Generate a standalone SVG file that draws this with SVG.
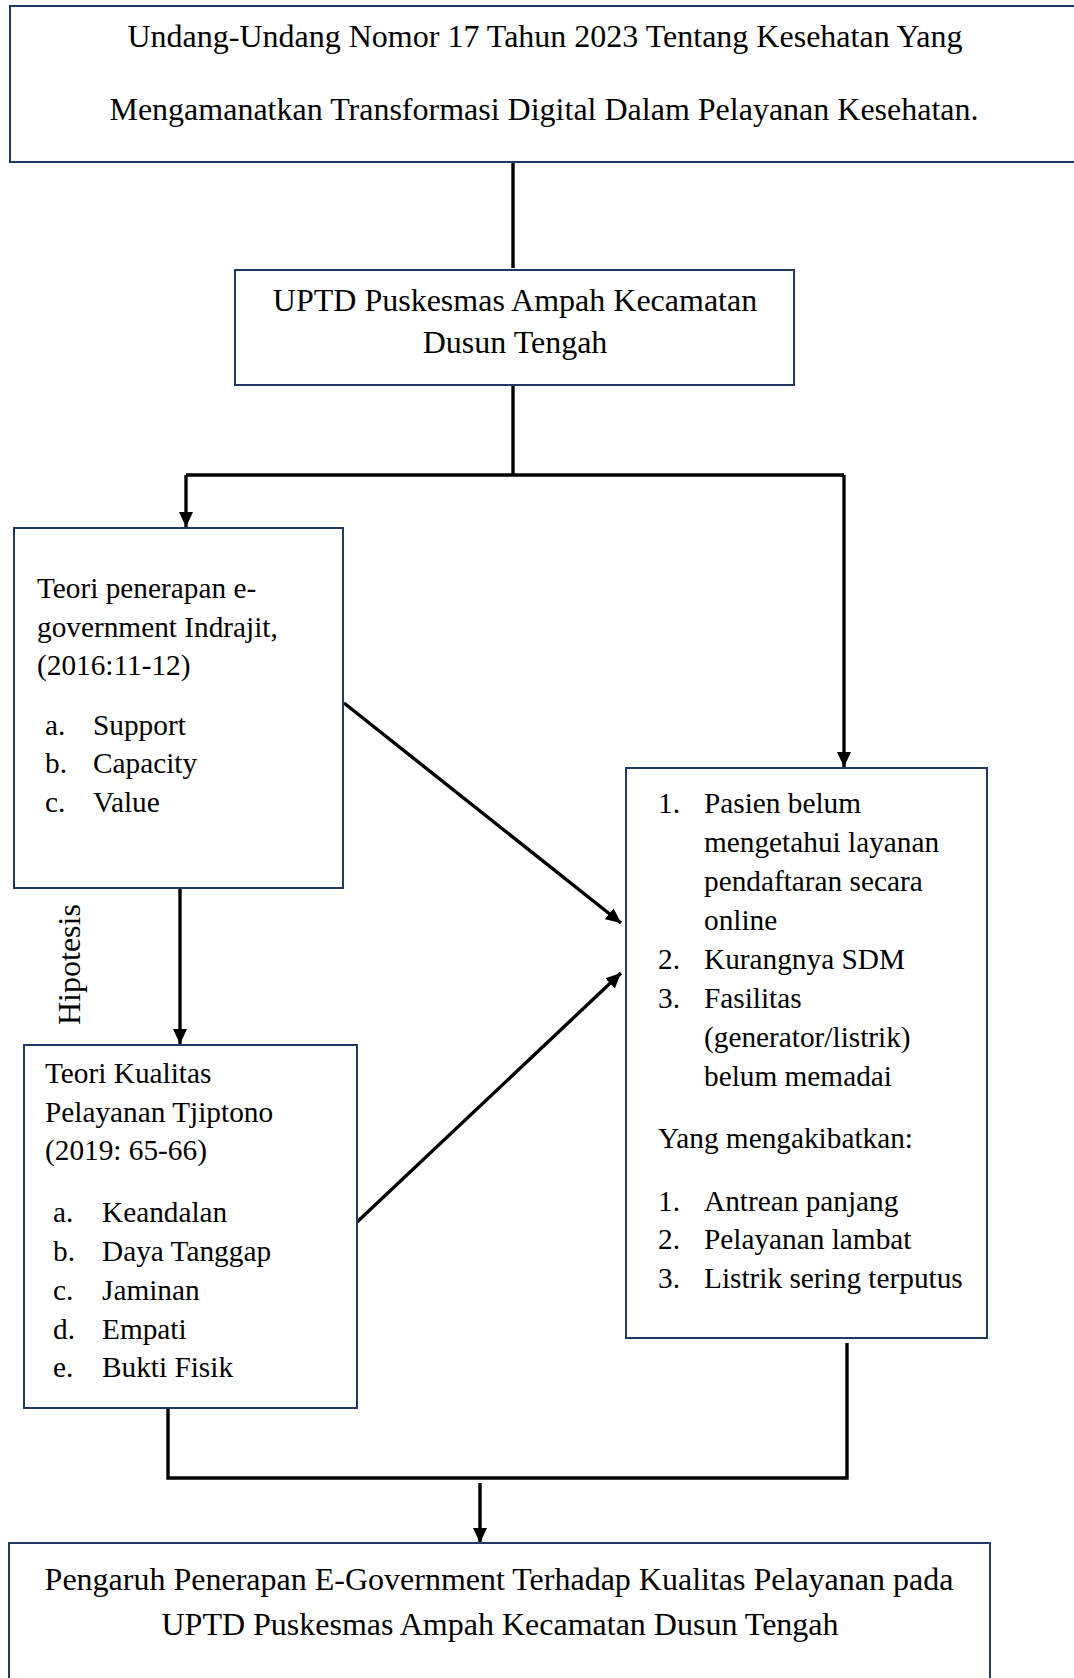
<svg xmlns="http://www.w3.org/2000/svg" width="1074" height="1678" viewBox="0 0 1074 1678">
<style>
.box{fill:#fff;stroke:#1f3864;stroke-width:2}
.t{font-family:"Liberation Serif","Times New Roman",serif;fill:#000}
.big{font-size:32px}
.sm{font-size:29.3px}
.mid{text-anchor:middle}
.c{fill:none;stroke:#000;stroke-width:3.4}
</style>
<defs>
<marker id="ah" markerUnits="userSpaceOnUse" markerWidth="16" markerHeight="14" refX="15" refY="7" orient="auto">
<path d="M0,0 L15,7 L0,14 z" fill="#000"/>
</marker>
</defs>
<rect width="1074" height="1678" fill="#fff"/>

<g id="connectors">
<line class="c" x1="513" y1="161" x2="513" y2="268"/>
<path class="c" d="M513,385 V475"/>
<path class="c" d="M186,475 H844"/>
<path class="c" d="M186,475 V527" marker-end="url(#ah)"/>
<path class="c" d="M844,475 V767" marker-end="url(#ah)"/>
<path class="c" d="M180,888 V1044" marker-end="url(#ah)"/>
<path class="c" d="M344,703 L621,923" marker-end="url(#ah)"/>
<path class="c" d="M356,1223 L621,973" marker-end="url(#ah)"/>
<path class="c" d="M168,1408 V1478 H847 V1343"/>
<path class="c" d="M480,1483 V1543" marker-end="url(#ah)"/>
</g>

<g id="node-uu">
<rect class="box" x="10" y="6" width="1090" height="156"/>
<text class="t big mid" x="545" y="47">Undang-Undang Nomor 17 Tahun 2023 Tentang Kesehatan Yang</text>
<text class="t big mid" x="544" y="120">Mengamanatkan Transformasi Digital Dalam Pelayanan Kesehatan.</text>
</g>

<g id="node-uptd">
<rect class="box" x="235" y="270" width="559" height="115"/>
<text class="t big mid" x="515" y="311">UPTD Puskesmas Ampah Kecamatan</text>
<text class="t big mid" x="515" y="353">Dusun Tengah</text>
</g>

<g id="node-egov">
<rect class="box" x="14" y="528" width="329" height="360"/>
<text class="t sm" x="37" y="598">Teori penerapan e-</text>
<text class="t sm" x="37" y="637">government Indrajit,</text>
<text class="t sm" x="37" y="675">(2016:11-12)</text>
<text class="t sm" x="45" y="735">a.</text><text class="t sm" x="93" y="735">Support</text>
<text class="t sm" x="45" y="773">b.</text><text class="t sm" x="93" y="773">Capacity</text>
<text class="t sm" x="45" y="812">c.</text><text class="t sm" x="93" y="812">Value</text>
</g>

<g id="label-hipotesis">
<text class="t big" transform="translate(80,1025) rotate(-90)">Hipotesis</text>
</g>

<g id="node-kualitas">
<rect class="box" x="24" y="1045" width="333" height="363"/>
<text class="t sm" x="45" y="1083">Teori Kualitas</text>
<text class="t sm" x="45" y="1122">Pelayanan Tjiptono</text>
<text class="t sm" x="45" y="1160">(2019: 65-66)</text>
<text class="t sm" x="53" y="1222">a.</text><text class="t sm" x="102" y="1222">Keandalan</text>
<text class="t sm" x="53" y="1261">b.</text><text class="t sm" x="102" y="1261">Daya Tanggap</text>
<text class="t sm" x="53" y="1300">c.</text><text class="t sm" x="102" y="1300">Jaminan</text>
<text class="t sm" x="53" y="1339">d.</text><text class="t sm" x="102" y="1339">Empati</text>
<text class="t sm" x="53" y="1377">e.</text><text class="t sm" x="102" y="1377">Bukti Fisik</text>
</g>

<g id="node-masalah">
<rect class="box" x="626" y="768" width="361" height="570"/>
<text class="t sm" x="658" y="813">1.</text><text class="t sm" x="704" y="813">Pasien belum</text>
<text class="t sm" x="704" y="852">mengetahui layanan</text>
<text class="t sm" x="704" y="891">pendaftaran secara</text>
<text class="t sm" x="704" y="930">online</text>
<text class="t sm" x="658" y="969">2.</text><text class="t sm" x="704" y="969">Kurangnya SDM</text>
<text class="t sm" x="658" y="1008">3.</text><text class="t sm" x="704" y="1008">Fasilitas</text>
<text class="t sm" x="704" y="1047">(generator/listrik)</text>
<text class="t sm" x="704" y="1086">belum memadai</text>
<text class="t sm" x="658" y="1148">Yang mengakibatkan:</text>
<text class="t sm" x="658" y="1211">1.</text><text class="t sm" x="704" y="1211">Antrean panjang</text>
<text class="t sm" x="658" y="1249">2.</text><text class="t sm" x="704" y="1249">Pelayanan lambat</text>
<text class="t sm" x="658" y="1288">3.</text><text class="t sm" x="704" y="1288">Listrik sering terputus</text>
</g>

<g id="node-pengaruh">
<rect class="box" x="9" y="1543" width="981" height="160"/>
<text class="t big mid" x="499" y="1590">Pengaruh Penerapan E-Government Terhadap Kualitas Pelayanan pada</text>
<text class="t big mid" x="500" y="1635">UPTD Puskesmas Ampah Kecamatan Dusun Tengah</text>
</g>
</svg>
